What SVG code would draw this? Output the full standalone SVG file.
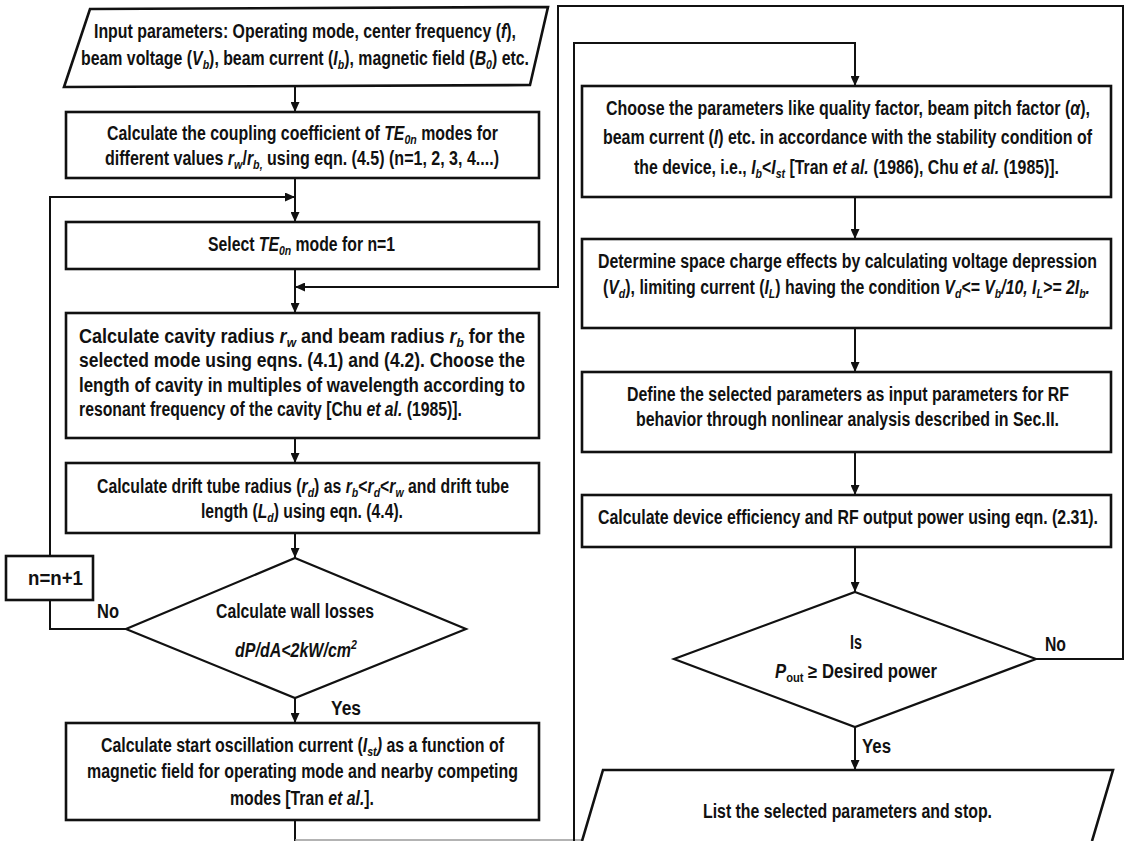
<svg xmlns="http://www.w3.org/2000/svg" width="1128" height="841" viewBox="0 0 1128 841">
<style>
.t{font-family:"Liberation Sans Narrow","Liberation Sans",Arial,sans-serif;font-weight:bold;font-size:19.5px;fill:#111}
.i{font-style:italic}
.s{font-size:13px;font-style:italic}
.su{font-size:13px}
.box{fill:#fff;stroke:#111;stroke-width:2.6}
.dia{fill:#fff;stroke:#111;stroke-width:2.2}
.ln{fill:none;stroke:#111;stroke-width:2}
.edge{fill:none;stroke:#9a9a9a;stroke-width:1.5}
</style>
<defs>
<marker id="ah" markerUnits="userSpaceOnUse" markerWidth="10" markerHeight="9" refX="10" refY="4.5" orient="auto">
<path d="M0,0 L10,4.5 L0,9 z" fill="#111"/>
</marker>
</defs>
<rect width="1128" height="841" fill="#fff"/>

<g id="connectors">
<line class="ln" x1="295" y1="86" x2="295" y2="112" marker-end="url(#ah)"/>
<line class="ln" x1="295" y1="178" x2="295" y2="222" marker-end="url(#ah)"/>
<polyline class="ln" points="50,556 50,197 295,197" marker-end="url(#ah)"/>
<polyline class="ln" points="126,629 50,629 50,600"/>
<line class="ln" x1="295" y1="269" x2="295" y2="313" marker-end="url(#ah)"/>
<polyline class="ln" points="1036,659 1123,659 1123,6 558,6 558,287 295,287" marker-end="url(#ah)"/>
<line class="ln" x1="295" y1="438" x2="295" y2="463" marker-end="url(#ah)"/>
<line class="ln" x1="295" y1="533" x2="295" y2="558" marker-end="url(#ah)"/>
<line class="ln" x1="295" y1="698" x2="295" y2="723" marker-end="url(#ah)"/>
<line class="ln" x1="295" y1="820" x2="295" y2="841"/>
<line class="edge" x1="295" y1="840" x2="1092" y2="840"/>
<polyline class="ln" points="574,841 574,43 855,43 855,86" marker-end="url(#ah)"/>
<line class="ln" x1="855" y1="197" x2="855" y2="239" marker-end="url(#ah)"/>
<line class="ln" x1="855" y1="328" x2="855" y2="372" marker-end="url(#ah)"/>
<line class="ln" x1="855" y1="452" x2="855" y2="495" marker-end="url(#ah)"/>
<line class="ln" x1="855" y1="547" x2="855" y2="592" marker-end="url(#ah)"/>
<line class="ln" x1="855" y1="727" x2="855" y2="770" marker-end="url(#ah)"/>
<text class="t" x="97" y="618" textLength="22" lengthAdjust="spacingAndGlyphs">No</text>
<text class="t" x="331" y="715" textLength="30" lengthAdjust="spacingAndGlyphs">Yes</text>
<text class="t" x="1045" y="651" textLength="21" lengthAdjust="spacingAndGlyphs">No</text>
<text class="t" x="862" y="753" textLength="29" lengthAdjust="spacingAndGlyphs">Yes</text>
</g>

<g id="input">
<polygon class="box" points="90,9 548,7 530,85 64,87"/>
<text class="t" x="94" y="38" textLength="422" lengthAdjust="spacingAndGlyphs">Input parameters: Operating mode, center frequency (<tspan class="i">f</tspan>),</text>
<text class="t" x="81" y="65" textLength="448" lengthAdjust="spacingAndGlyphs">beam voltage (<tspan class="i">V</tspan><tspan class="s" dy="4">b</tspan><tspan dy="-4">), beam current (</tspan><tspan class="i">I</tspan><tspan class="s" dy="4">b</tspan><tspan dy="-4">), magnetic field (</tspan><tspan class="i">B</tspan><tspan class="s" dy="4">0</tspan><tspan dy="-4">) etc.</tspan></text>
</g>

<g id="coupling">
<rect class="box" x="66" y="112" width="473" height="66"/>
<text class="t" x="107" y="140" textLength="391" lengthAdjust="spacingAndGlyphs">Calculate the coupling coefficient of <tspan class="i">TE</tspan><tspan class="s" dy="4">0n</tspan><tspan dy="-4"> modes for</tspan></text>
<text class="t" x="105" y="165" textLength="394" lengthAdjust="spacingAndGlyphs">different values <tspan class="i">r</tspan><tspan class="s" dy="4">w</tspan><tspan dy="-4">/</tspan><tspan class="i">r</tspan><tspan class="s" dy="4">b,</tspan><tspan dy="-4"> using eqn. (4.5) (n=1, 2, 3, 4....)</tspan></text>
</g>

<g id="select">
<rect class="box" x="66" y="222" width="473" height="47"/>
<text class="t" x="208" y="251" textLength="187" lengthAdjust="spacingAndGlyphs">Select <tspan class="i">TE</tspan><tspan class="s" dy="4">0n</tspan><tspan dy="-4"> mode for n=1</tspan></text>
</g>

<g id="cavity">
<rect class="box" x="66" y="313" width="473" height="125"/>
<text class="t" x="79" y="343" textLength="446" lengthAdjust="spacingAndGlyphs">Calculate cavity radius <tspan class="i">r</tspan><tspan class="s" dy="4">w</tspan><tspan dy="-4"> and beam radius </tspan><tspan class="i">r</tspan><tspan class="s" dy="4">b</tspan><tspan dy="-4"> for the</tspan></text>
<text class="t" x="79" y="367" textLength="446" lengthAdjust="spacingAndGlyphs">selected mode using eqns. (4.1) and (4.2). Choose the</text>
<text class="t" x="79" y="392" textLength="446" lengthAdjust="spacingAndGlyphs">length of cavity in multiples of wavelength according to</text>
<text class="t" x="79" y="416" textLength="383" lengthAdjust="spacingAndGlyphs">resonant frequency of the cavity [Chu <tspan class="i">et al.</tspan> (1985)].</text>
</g>

<g id="drift">
<rect class="box" x="66" y="463" width="473" height="70"/>
<text class="t" x="97" y="493" textLength="412" lengthAdjust="spacingAndGlyphs">Calculate drift tube radius (<tspan class="i">r</tspan><tspan class="s" dy="4">d</tspan><tspan dy="-4">) as </tspan><tspan class="i">r</tspan><tspan class="s" dy="4">b</tspan><tspan dy="-4">&lt;</tspan><tspan class="i">r</tspan><tspan class="s" dy="4">d</tspan><tspan dy="-4">&lt;</tspan><tspan class="i">r</tspan><tspan class="s" dy="4">w</tspan><tspan dy="-4"> and drift tube</tspan></text>
<text class="t" x="201" y="518" textLength="202" lengthAdjust="spacingAndGlyphs">length (<tspan class="i">L</tspan><tspan class="s" dy="4">d</tspan><tspan dy="-4">) using eqn. (4.4).</tspan></text>
</g>

<g id="increment">
<rect class="box" x="6" y="556" width="87" height="44"/>
<text class="t" x="28" y="585" textLength="55" lengthAdjust="spacingAndGlyphs">n=n+1</text>
</g>

<g id="wall-losses">
<polygon class="dia" points="295,558 466,629 295,698 126,629"/>
<text class="t" x="216" y="618" textLength="158" lengthAdjust="spacingAndGlyphs">Calculate wall losses</text>
<text class="t" x="235" y="657" textLength="122" lengthAdjust="spacingAndGlyphs"><tspan class="i">dP/dA&lt;2kW/cm</tspan><tspan class="s" dy="-8">2</tspan></text>
</g>

<g id="start-osc">
<rect class="box" x="66" y="723" width="473" height="97"/>
<text class="t" x="101" y="752" textLength="403" lengthAdjust="spacingAndGlyphs">Calculate start oscillation current (<tspan class="i">I</tspan><tspan class="s" dy="4">st</tspan><tspan class="i" dy="-4">)</tspan> as a function of</text>
<text class="t" x="87" y="778" textLength="431" lengthAdjust="spacingAndGlyphs">magnetic field for operating mode and nearby competing</text>
<text class="t" x="230" y="805" textLength="144" lengthAdjust="spacingAndGlyphs">modes [Tran <tspan class="i">et al.</tspan>].</text>
</g>

<g id="choose">
<rect class="box" x="582" y="86" width="529" height="111"/>
<text class="t" x="606" y="115" textLength="484" lengthAdjust="spacingAndGlyphs">Choose the parameters like quality factor, beam pitch factor (<tspan class="i">α</tspan>),</text>
<text class="t" x="603" y="144" textLength="489" lengthAdjust="spacingAndGlyphs">beam current (<tspan class="i">I</tspan>) etc. in accordance with the stability condition of</text>
<text class="t" x="634" y="174" textLength="425" lengthAdjust="spacingAndGlyphs">the device, i.e., <tspan class="i">I</tspan><tspan class="s" dy="4">b</tspan><tspan dy="-4">&lt;</tspan><tspan class="i">I</tspan><tspan class="s" dy="4">st</tspan><tspan dy="-4"> [Tran </tspan><tspan class="i">et al.</tspan> (1986), Chu <tspan class="i">et al.</tspan> (1985)].</text>
</g>

<g id="space-charge">
<rect class="box" x="582" y="239" width="529" height="89"/>
<text class="t" x="598" y="268" textLength="499" lengthAdjust="spacingAndGlyphs">Determine space charge effects by calculating voltage depression</text>
<text class="t" x="603" y="294" textLength="487" lengthAdjust="spacingAndGlyphs">(<tspan class="i">V</tspan><tspan class="s" dy="4">d</tspan><tspan dy="-4">), limiting current (</tspan><tspan class="i">I</tspan><tspan class="s" dy="4">L</tspan><tspan dy="-4">) having the condition </tspan><tspan class="i">V</tspan><tspan class="s" dy="4">d</tspan><tspan class="i" dy="-4">&lt;= V</tspan><tspan class="s" dy="4">b</tspan><tspan class="i" dy="-4">/10, I</tspan><tspan class="s" dy="4">L</tspan><tspan class="i" dy="-4">&gt;= 2I</tspan><tspan class="s" dy="4">b</tspan><tspan class="i" dy="-4">.</tspan></text>
</g>

<g id="define">
<rect class="box" x="582" y="372" width="529" height="80"/>
<text class="t" x="627" y="401" textLength="442" lengthAdjust="spacingAndGlyphs">Define the selected parameters as input parameters for RF</text>
<text class="t" x="636" y="426" textLength="423" lengthAdjust="spacingAndGlyphs">behavior through nonlinear analysis described in Sec.II.</text>
</g>

<g id="efficiency">
<rect class="box" x="582" y="495" width="529" height="52"/>
<text class="t" x="598" y="524" textLength="500" lengthAdjust="spacingAndGlyphs">Calculate device efficiency and RF output power using eqn. (2.31).</text>
</g>

<g id="power-check">
<polygon class="dia" points="855,592 1036,659 855,727 674,659"/>
<text class="t" x="850" y="649" textLength="12" lengthAdjust="spacingAndGlyphs">Is</text>
<text class="t" x="775" y="678" textLength="162" lengthAdjust="spacingAndGlyphs"><tspan class="i">P</tspan><tspan class="su" dy="4">out</tspan><tspan dy="-4">  ≥  Desired power</tspan></text>
</g>

<g id="output">
<path class="box" d="M582,841 L603,770 L1113,770 L1092,841"/>
<text class="t" x="703" y="818" textLength="289" lengthAdjust="spacingAndGlyphs">List the selected parameters and stop.</text>
</g>
</svg>
